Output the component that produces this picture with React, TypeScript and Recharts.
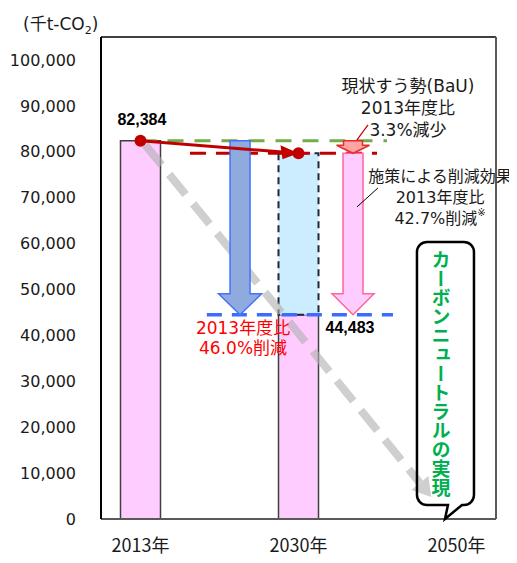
import {
  Bar,
  ComposedChart,
  Line,
  ReferenceDot,
  ReferenceLine,
  XAxis,
  YAxis,
} from "recharts";

// values
const categories = ["2013年", "2030年", "2050年"];
const emissions = [82384, 44483, null]; // pink bars
const policyCut = [null, 35182, null]; // dashed light-blue box (BaU - target)
const bau = [82384, 79665, null]; // red line (現状すう勢)
const yTicks = [0, 10000, 20000, 30000, 40000, 50000, 60000, 70000, 80000, 90000, 100000];

const data = categories.map((name, i) => ({
  x: i,
  name,
  emissions: emissions[i],
  policyCut: policyCut[i],
  bau: bau[i],
}));

const JP = "'DejaVu Sans', 'Noto Sans CJK JP', sans-serif";

const RedDot = (p: any) => {
  const { cx, cy, index } = p;
  if (cx == null || cy == null) return <g key={`d${index}`} />;
  return (
    <g key={`d${index}`}>
      {index === 1 && (
        <polygon points={`${cx - 18},${cy - 8} ${cx},${cy} ${cx - 16},${cy + 6}`} fill="#C00000" />
      )}
      <circle cx={cx} cy={cy} r={6} fill="#C00000" />
    </g>
  );
};

// down-pointing block arrow between two data points
const blockArrow =
  (shaft: number, head: number, headH: number, fill: string, stroke: string) => (p: any) => {
    const { x1, y1, y2 } = p;
    const hy = y2 - headH;
    const pts = [
      [x1 - shaft / 2, y1],
      [x1 + shaft / 2, y1],
      [x1 + shaft / 2, hy],
      [x1 + head / 2, hy],
      [x1, y2],
      [x1 - head / 2, hy],
      [x1 - shaft / 2, hy],
    ]
      .map((q) => q.join(","))
      .join(" ");
    return <polygon points={pts} fill={fill} stroke={stroke} strokeWidth={1.5} />;
  };

const GrayArrow = (p: any) => {
  const { x1, y1, x2, y2 } = p;
  const dx = x2 - x1;
  const dy = y2 - y1;
  const len = Math.sqrt(dx * dx + dy * dy);
  const ux = dx / len;
  const uy = dy / len;
  const bx = x2 - ux * 18;
  const by = y2 - uy * 18;
  return (
    <g opacity={0.6}>
      <line x1={x1} y1={y1} x2={bx} y2={by} stroke="#B0B0B0" strokeWidth={8} strokeDasharray="26 12" />
      <polygon
        points={`${x2},${y2} ${bx - uy * 11},${by + ux * 11} ${bx + uy * 11},${by - ux * 11}`}
        fill="#B0B0B0"
      />
    </g>
  );
};

const note =
  (lines: string[], step: number, color: string, size: number, extra?: string) => (p: any) => {
    const { cx, cy } = p;
    return (
      <text x={cx} y={cy} textAnchor="middle" fontFamily={JP} fontSize={size} fill={color}>
        {lines.map((l, i) => (
          <tspan key={i} x={cx} y={cy + i * step} dominantBaseline="central">
            {l}
            {extra && i === lines.length - 1 ? (
              <tspan fontSize={10} dy={-6}>
                {extra}
              </tspan>
            ) : null}
          </tspan>
        ))}
      </text>
    );
  };

const boldValue = (v: string) => (p: any) => (
  <text
    x={p.cx}
    y={p.cy}
    textAnchor="middle"
    dominantBaseline="central"
    fontFamily="'Liberation Sans', Arial, sans-serif"
    fontWeight="bold"
    fontSize={16}
    fill="#000"
  >
    {v}
  </text>
);

const Callout = (p: any) => {
  const { cx, cy } = p;
  const left = cx - 28;
  const right = cx + 29;
  const top = cy - 277;
  const bottom = cy - 14;
  const r = 10;
  const d = `M${left + r},${top} H${right - r} A${r},${r} 0 0 1 ${right},${top + r} V${bottom - r} A${r},${r} 0 0 1 ${right - r},${bottom} H${cx + 17} L${cx},${cy} L${cx + 3},${bottom} H${left + r} A${r},${r} 0 0 1 ${left},${bottom - r} V${top + r} A${r},${r} 0 0 1 ${left + r},${top} Z`;
  return (
    <g>
      <path d={d} fill="none" stroke="#000" strokeWidth={2.5} />
      <text
        x={cx - 4}
        y={top + 8}
        fontFamily="'Noto Sans CJK JP', sans-serif"
        fontWeight="bold"
        fontSize={19}
        fill="#00B050"
        style={{ writingMode: "vertical-rl" }}
      >
        カーボンニュートラルの実現
      </text>
    </g>
  );
};

export default function App() {
  return (
    <div style={{ position: "relative", width: 509, height: 555 }}>
      <div
        style={{
          position: "absolute",
          left: 15,
          top: 2,
          fontFamily: JP,
          fontSize: 17,
          color: "#1a1a1a",
          whiteSpace: "nowrap",
        }}
      >
        (千t-CO<sub style={{ fontSize: 11 }}>2</sub>)
      </div>
      <div style={{ position: "absolute", left: -8, top: 523, width: 2, height: 32, background: "#FF0000" }} />
      <ComposedChart
        width={509}
        height={555}
        data={data}
        margin={{ top: 29, right: 21, left: 0, bottom: 14 }}
      >
        <XAxis
          dataKey="x"
          type="number"
          domain={[-0.25, 2.25]}
          ticks={[0, 1, 2]}
          allowDataOverflow
          tickFormatter={(i) => categories[i]}
          tickLine={false}
          tickMargin={14}
          height={30}
          axisLine={{ stroke: "#595959", strokeWidth: 2 }}
          tick={{ fontFamily: "'Noto Sans CJK JP', sans-serif", fontSize: 18, fill: "#1a1a1a" }}
        />
        <YAxis
          type="number"
          domain={[0, 105000]}
          ticks={yTicks}
          allowDataOverflow
          width={93}
          tickLine={false}
          tickMargin={19}
          tickFormatter={(v) => v.toLocaleString("en-US")}
          axisLine={{ stroke: "#000", strokeWidth: 2 }}
          tick={{ fontFamily: JP, fontSize: 16, fill: "#1a1a1a" }}
        />
        <ReferenceLine y={105000} stroke="#404040" strokeWidth={2} />
        <ReferenceLine x={2.25} stroke="#595959" strokeWidth={2} />
        <Bar
          dataKey="emissions"
          stackId="a"
          barSize={40}
          fill="#FFCCFF"
          stroke="#404040"
          strokeWidth={1.5}
          isAnimationActive={false}
        />
        <Bar
          dataKey="policyCut"
          stackId="a"
          barSize={40}
          fill="#CCECFF"
          stroke="#1F2937"
          strokeWidth={2}
          strokeDasharray="7 5"
          isAnimationActive={false}
        />
        <ReferenceLine
          segment={[{ x: 0.03, y: 81500 }, { x: 1.84, y: 4800 }]}
          shape={GrayArrow}
        />
        <ReferenceLine
          segment={[{ x: 0, y: 82384 }, { x: 1.56, y: 82384 }]}
          stroke="#70AD47"
          strokeWidth={3}
          strokeDasharray="16 11"
        />
        <ReferenceLine
          segment={[{ x: 0.313, y: 79665 }, { x: 1.497, y: 79665 }]}
          stroke="#C00000"
          strokeWidth={3}
          strokeDasharray="16 10"
        />
        <ReferenceLine
          segment={[{ x: 0.42, y: 44483 }, { x: 1.598, y: 44483 }]}
          stroke="#3D6BFF"
          strokeWidth={3.5}
          strokeDasharray="15 10"
        />
        <ReferenceLine
          segment={[{ x: 0.63, y: 82384 }, { x: 0.63, y: 44483 }]}
          shape={blockArrow(20, 43, 21, "#8FAADC", "#4472FF")}
        />
        <ReferenceLine
          segment={[{ x: 1.345, y: 79665 }, { x: 1.345, y: 44483 }]}
          shape={blockArrow(20, 42, 21, "#FFCCFF", "#FF6699")}
        />
        <ReferenceLine
          segment={[{ x: 1.345, y: 82384 }, { x: 1.345, y: 79665 }]}
          shape={blockArrow(19, 33, 8, "#FFA3A3", "#E03030")}
        />
        <Line
          dataKey="bau"
          type="linear"
          stroke="#C00000"
          strokeWidth={3}
          dot={RedDot}
          activeDot={false}
          isAnimationActive={false}
        />
        <ReferenceLine
          segment={[{ x: 1.44, y: 85850 }, { x: 1.37, y: 82580 }]}
          stroke="#C00000"
          strokeWidth={1.2}
        />
        <ReferenceLine
          segment={[{ x: 1.503, y: 72120 }, { x: 1.37, y: 67980 }]}
          stroke="#000"
          strokeWidth={1}
        />
        <ReferenceDot x={0.009} y={86940} shape={boldValue("82,384")} />
        <ReferenceDot x={1.326} y={41620} shape={boldValue("44,483")} />
        <ReferenceDot
          x={1.693}
          y={94350}
          shape={note(["現状すう勢(BaU)", "2013年度比", "3.3%減少"], 22, "#1a1a1a", 17)}
        />
        <ReferenceDot
          x={1.896}
          y={74520}
          shape={note(["施策による削減効果", "2013年度比", "42.7%削減"], 21, "#1a1a1a", 16, "※")}
        />
        <ReferenceDot
          x={0.649}
          y={41620}
          shape={note(["2013年度比", "46.0%削減"], 20, "#FF0000", 17)}
        />
        <ReferenceDot x={1.927} y={0} shape={Callout} />
      </ComposedChart>
    </div>
  );
}
